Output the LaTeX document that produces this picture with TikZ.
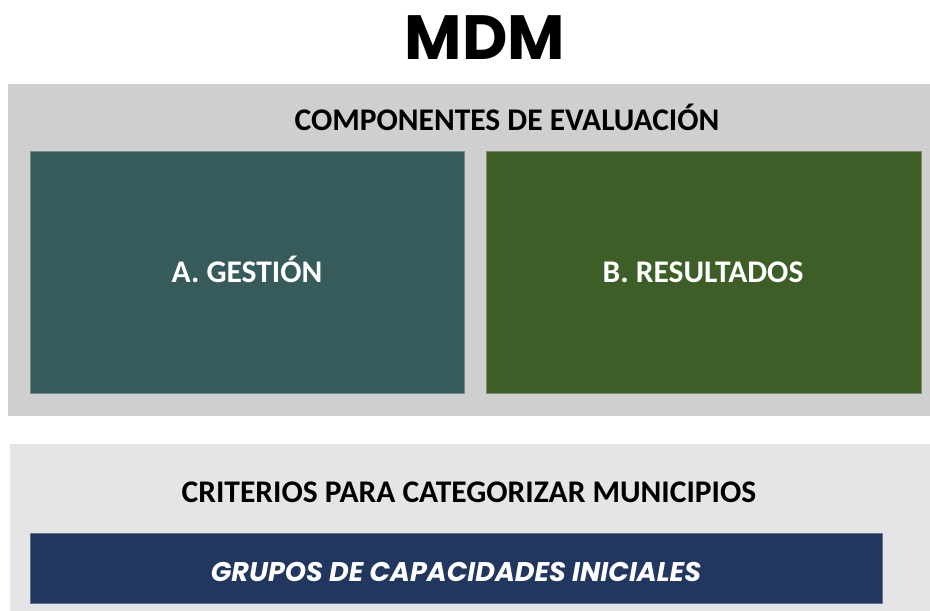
\documentclass[tikz,border=0pt]{standalone}
\usepackage{fontspec}
\setmainfont{Carlito}
\newfontfamily\geofont{Poppins}
\definecolor{panelgray}{HTML}{CFCFCF}
\definecolor{lightpanel}{HTML}{E5E5E5}
\definecolor{gestion}{HTML}{375A5B}
\definecolor{resultados}{HTML}{3D5E27}
\definecolor{grupos}{HTML}{21375F}

\begin{document}
\begin{tikzpicture}[x=1pt,y=-1pt,
    compbox/.style={draw=#1!70!white,line width=0.8pt,fill=#1},
    heading/.style={anchor=base,font=\bfseries\fontsize{31.5}{34}\selectfont,text=black},
    boxtext/.style={anchor=base,font=\bfseries\fontsize{31.5}{34}\selectfont,text=white}]
                \useasboundingbox (0,0) rectangle (930,611);
                % panels
                \fill[panelgray] (8,84) rectangle (930,416);
                \fill[lightpanel] (10,444) rectangle (930,611);
                % components
                \filldraw[compbox=gestion] (30,151) rectangle (464,393);
                \filldraw[compbox=resultados] (486,151) rectangle (921,393);
                \filldraw[compbox=grupos] (30,533) rectangle (882,603);
                % texts
                \node[anchor=base,font=\geofont\bfseries\fontsize{62.5}{66}\selectfont] (mdm) at (485,59) {MDM};
                \node[heading] (componentes) at (507,130) {COMPONENTES DE EVALUACIÓN};
                \node[boxtext] (gestionlbl) at (247,282) {A. GESTIÓN};
                \node[boxtext] (resultadoslbl) at (703,282) {B. RESULTADOS};
                \node[heading] (criterios) at (469,502) {CRITERIOS PARA CATEGORIZAR MUNICIPIOS};
                \node[anchor=base,font=\geofont\bfseries\itshape\fontsize{27}{30}\selectfont,text=white] (gruposlbl) at (456,581) {GRUPOS DE CAPACIDADES INICIALES};
            \end{tikzpicture}
\end{document}
